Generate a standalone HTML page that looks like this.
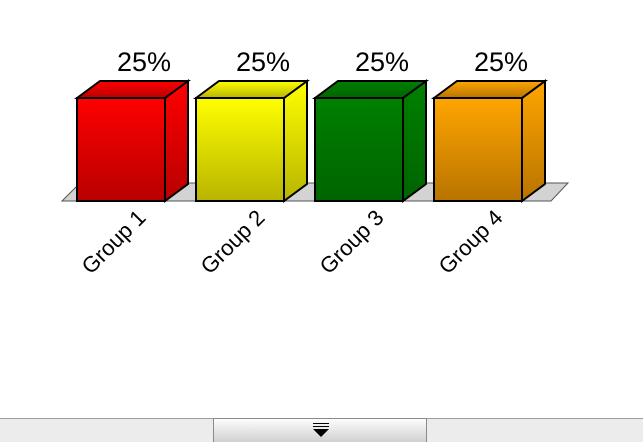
<!DOCTYPE html>
<html><head><meta charset="utf-8"><style>
body{margin:0;width:643px;height:442px;overflow:hidden;background:#fff;font-family:"Liberation Sans",sans-serif}
#bar{position:absolute;left:0;top:418px;width:643px;height:24px;background:#ececec;border-top:1px solid #a0a0a0;box-sizing:border-box}
#btn{position:absolute;left:213px;top:418px;width:214px;height:24px;box-sizing:border-box;border:1px solid #8a8a8a;border-bottom:none;background:linear-gradient(#fdfdfd,#d0d0d0)}
</style></head><body>
<svg id="chart" width="643" height="418" style="position:absolute;left:0;top:0">
<defs>
<linearGradient id="g0" x1="0" y1="0" x2="0" y2="1"><stop offset="0" stop-color="#f00"/><stop offset="1" stop-color="#b80000"/></linearGradient>
<linearGradient id="g1" x1="0" y1="0" x2="0" y2="1"><stop offset="0" stop-color="#ff0"/><stop offset="1" stop-color="#b8b400"/></linearGradient>
<linearGradient id="g2" x1="0" y1="0" x2="0" y2="1"><stop offset="0" stop-color="#008000"/><stop offset="1" stop-color="#006400"/></linearGradient>
<linearGradient id="g3" x1="0" y1="0" x2="0" y2="1"><stop offset="0" stop-color="#ffa500"/><stop offset="1" stop-color="#b87400"/></linearGradient>
</defs>
<polygon points="62,201 80,183 568,183 551,201" fill="#d3d3d3" stroke="#555" stroke-width="1"/>
</svg>
<div id="bar"></div>
<div id="btn">
<svg width="214" height="24" style="position:absolute;left:0;top:0"><line x1="99" y1="4.5" x2="115" y2="4.5" stroke="#000"/><line x1="99" y1="7.5" x2="115" y2="7.5" stroke="#000"/><polygon points="99,10 115,10 107,18" fill="#000"/></svg>
</div>
<script>
const categories=["Group 1","Group 2","Group 3","Group 4"];
const values=[25,25,25,25];
const labels=["25%","25%","25%","25%"];
const svg=document.getElementById('chart');
const NS="http://www.w3.org/2000/svg";
const x0=77,step=119,bw=88,base=201,dx=23,dy=17,hMax=103,vMax=25;
const xs=i=>x0+i*step;
const ys=v=>base-v/vMax*hMax;
function mk(t,a){const e=document.createElementNS(NS,t);for(const k in a)e.setAttribute(k,a[k]);svg.appendChild(e);return e;}
values.forEach((v,i)=>{
 const x=xs(i),y=ys(v),g="url(#g"+i+")";
 const side=mk('polygon',{points:`${x+bw},${y} ${x+bw+dx},${y-dy} ${x+bw+dx},${base-dy} ${x+bw},${base}`,fill:g,stroke:'#000','stroke-width':2});
 
 
 const top=mk('polygon',{points:`${x},${y} ${x+dx},${y-dy} ${x+bw+dx},${y-dy} ${x+bw},${y}`,fill:g,stroke:'#000','stroke-width':2});
 
 
 const f=mk('rect',{x:x,y:y,width:bw,height:base-y,fill:g,stroke:'#000','stroke-width':2});
 
 
 const t=mk('text',{x:x+67,y:y-27,'text-anchor':'middle','font-size':27,fill:'#000'});
 t.textContent=labels[i];
 
 
 const c=mk('text',{x:x+70,y:219,'text-anchor':'end','font-size':22,fill:'#000',transform:`rotate(-45 ${x+70} 219)`});
 c.textContent=categories[i];
 
 
});
</script>
</body></html>
